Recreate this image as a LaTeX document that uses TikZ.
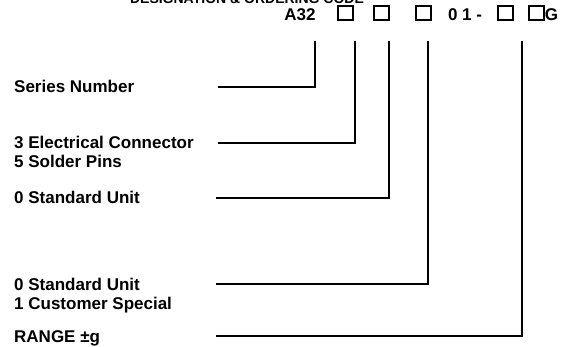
\documentclass[tikz,border=0pt]{standalone}
\usepackage{fontspec}
\setmainfont{Liberation Sans}
\begin{document}
\begin{tikzpicture}[x=1pt,y=1pt,font=\bfseries\fontsize{17}{20}\selectfont,
    codebox/.style={draw,line width=1.6pt,minimum width=15pt,minimum height=14pt,inner sep=0pt},
    lead/.style={line width=1.3pt}]
                \useasboundingbox (0,0) rectangle (572,-347);
                %% title (cut off at the top)
                \node[anchor=base,font=\bfseries\fontsize{14}{16}\selectfont] (title) at (247,-4) {DESIGNATION \& ORDERING CODE};
                %% ordering code
                \node[anchor=base] (A) at (300,-21) {A32};
                \node[codebox,anchor=south west] (B1) at (337,-21) {};
                \node[codebox,anchor=south west] (B2) at (373,-21) {};
                \node[codebox,anchor=south west] (B3) at (415,-21) {};
                \node[anchor=base] (Z) at (465,-21) {0 1 -};
                \node[codebox,anchor=south west] (B4) at (497,-21) {};
                \node[codebox,anchor=south west] (B5) at (528,-21) {};
                \node[anchor=base west,inner sep=0pt] (G) at (B5.south east) {G};
                %% tops of the leads
                \coordinate (T1) at (315,-41);
                \coordinate (T2) at (355,-41);
                \coordinate (T3) at (389,-41);
                \coordinate (T4) at (428,-41);
                \coordinate (T5) at (522,-41);
                %% labels
                \node[anchor=base west,inner sep=0pt] (L1) at (14,-93) {Series Number};
                \node[anchor=base west,inner sep=0pt] (L2) at (14,-149) {3 Electrical Connector};
                \node[anchor=base west,inner sep=0pt] (L2b) at (14,-168) {5 Solder Pins};
                \node[anchor=base west,inner sep=0pt] (L3) at (14,-204) {0 Standard Unit};
                \node[anchor=base west,inner sep=0pt] (L4) at (14,-290) {0 Standard Unit};
                \node[anchor=base west,inner sep=0pt] (L4b) at (14,-309) {1 Customer Special};
                \node[anchor=base west,inner sep=0pt] (L5) at (14,-342) {RANGE ±g};
                %% left ends of the leads
                \coordinate (E1) at (218,-87);
                \coordinate (E2) at (218,-143);
                \coordinate (E3) at (216,-198);
                \coordinate (E4) at (216,-284);
                \coordinate (E5) at (216,-336);
                %% leads
                \draw[lead] (T1) |- (E1);
                \draw[lead] (T2) |- (E2);
                \draw[lead] (T3) |- (E3);
                \draw[lead] (T4) |- (E4);
                \draw[lead] (T5) |- (E5);
            \end{tikzpicture}
\end{document}
